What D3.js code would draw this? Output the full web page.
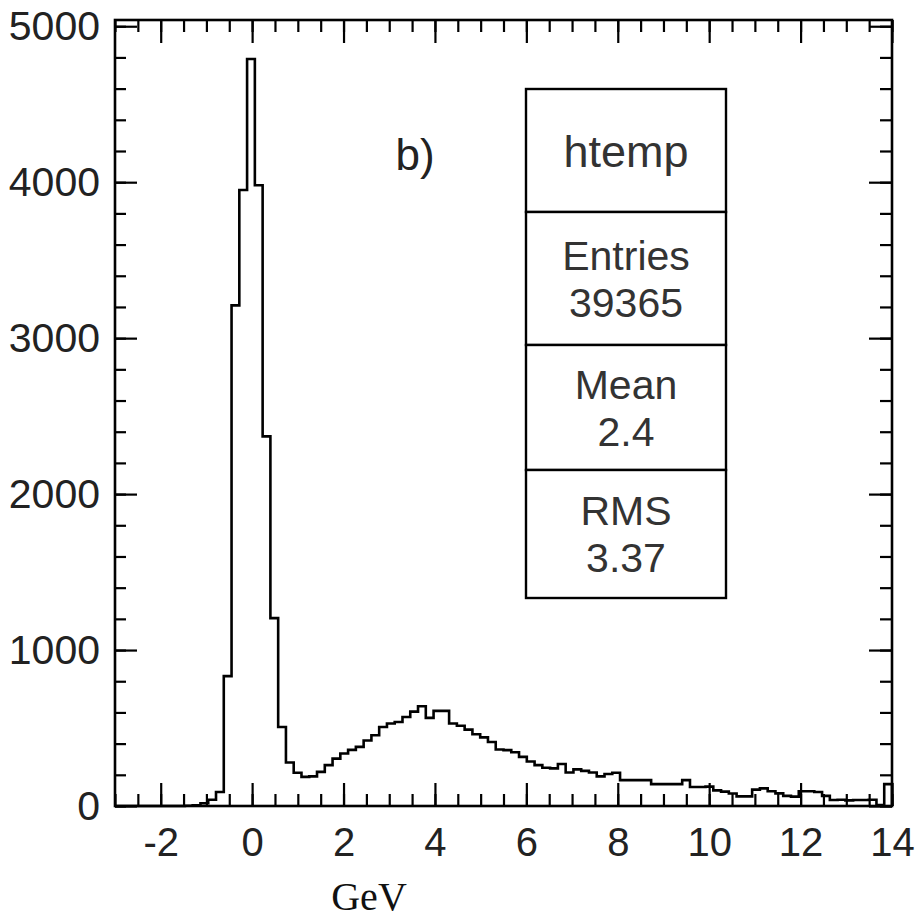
<!DOCTYPE html>
<html>
<head>
<meta charset="utf-8">
<script src="https://cdn.jsdelivr.net/npm/d3@7"></script>
<style>
  body { margin: 0; background: #fff; }
  .axis text { font-family: "Liberation Sans", Arial, sans-serif; fill: #222; }
  .axis line { stroke: #000; stroke-width: 2.2; }
  .axis path { display: none; }
</style>
</head>
<body>
<div id="chart"></div>
<script>
// histogram data, 100 bins from -3 to 14 GeV
const binStart = -3;
const binWidth = 0.17;
const counts = [
    0, 0, 0, 0, 0, 0, 0, 0, 0, 2,
    5, 18, 40, 90, 833, 3210, 3950, 4790, 3980, 2370,
    1205, 507, 279, 213, 187, 190, 219, 262, 304, 337,
    360, 379, 420, 454, 507, 529, 539, 571, 605, 640,
    565, 610, 610, 529, 515, 490, 460, 440, 410, 362,
    358, 345, 315, 285, 262, 245, 241, 269, 215, 235,
    225, 215, 190, 205, 213, 166, 166, 166, 166, 140,
    140, 140, 140, 166, 122, 122, 124, 100, 92, 80,
    62, 62, 105, 113, 95, 81, 65, 60, 95, 95,
    90, 65, 38, 40, 36, 38, 38, 40, 6, 140
];

// axis ticks
const xMajor = [-2, 0, 2, 4, 6, 8, 10, 12, 14];
const xMinor = d3.range(-3, 14.01, 0.5);
const yMajor = [0, 1000, 2000, 3000, 4000, 5000];
const yMinor = d3.range(0, 5001, 200);

// stats box
const statRows = [
    ["htemp"],
    ["Entries", "39365"],
    ["Mean", "2.4"],
    ["RMS", "3.37"]
];

const W = 920, H = 922;
const xLeft = 115, xRight = 892, yTop = 20, yBottom = 806;

const svg = d3.select("#chart").append("svg")
    .attr("width", W)
    .attr("height", H);

const x = d3.scaleLinear().domain([-3, 14]).range([xLeft, xRight]);
const y = d3.scaleLinear().domain([0, 5040]).range([yBottom, yTop]);

// Axlar, ticks inåt
svg.append("g").classed("axis", true)
    .attr("transform", `translate(0, ${yBottom})`)
    .call(d3.axisBottom(x).tickValues(xMinor).tickSizeInner(-12).tickSizeOuter(0).tickFormat(""));
svg.append("g").classed("axis", true)
    .attr("transform", `translate(0, ${yBottom})`)
    .call(d3.axisBottom(x).tickValues(xMajor).tickSizeInner(-23).tickSizeOuter(0).tickPadding(22)
        .tickFormat(d => d))
    .selectAll("text").style("font-size", "40px");

svg.append("g").classed("axis", true)
    .attr("transform", `translate(0, ${yTop})`)
    .call(d3.axisTop(x).tickValues(xMinor).tickSizeInner(-12).tickSizeOuter(0).tickFormat(""));
svg.append("g").classed("axis", true)
    .attr("transform", `translate(0, ${yTop})`)
    .call(d3.axisTop(x).tickValues(xMajor).tickSizeInner(-23).tickSizeOuter(0).tickFormat(""));

svg.append("g").classed("axis", true)
    .attr("transform", `translate(${xLeft}, 0)`)
    .call(d3.axisLeft(y).tickValues(yMinor).tickSizeInner(-11).tickSizeOuter(0).tickFormat(""));
svg.append("g").classed("axis", true)
    .attr("transform", `translate(${xLeft}, 0)`)
    .call(d3.axisLeft(y).tickValues(yMajor).tickSizeInner(-22).tickSizeOuter(0).tickPadding(15)
        .tickFormat(d => d))
    .selectAll("text").style("font-size", "41px");

svg.append("g").classed("axis", true)
    .attr("transform", `translate(${xRight}, 0)`)
    .call(d3.axisRight(y).tickValues(yMinor).tickSizeInner(-12).tickSizeOuter(0).tickFormat(""));
svg.append("g").classed("axis", true)
    .attr("transform", `translate(${xRight}, 0)`)
    .call(d3.axisRight(y).tickValues(yMajor).tickSizeInner(-23).tickSizeOuter(0).tickFormat(""));

// Ram
svg.append("rect")
    .attr("x", xLeft).attr("y", yTop)
    .attr("width", xRight - xLeft).attr("height", yBottom - yTop)
    .attr("fill", "none").attr("stroke", "#000").attr("stroke-width", 2.6);

// Histogram som steg-linje
const pts = [[binStart, 0]];
counts.forEach((c, i) => {
    pts.push([binStart + i * binWidth, c]);
    pts.push([binStart + (i + 1) * binWidth, c]);
});
pts.push([binStart + counts.length * binWidth, 0]);

const line = d3.line()
    .x(d => x(d[0]))
    .y(d => y(d[1]));

svg.append("path")
    .datum(pts)
    .attr("fill", "none")
    .attr("stroke", "#000")
    .attr("stroke-width", 2.6)
    .attr("d", line);

// b)
svg.append("text")
    .attr("x", 415).attr("y", 170)
    .attr("text-anchor", "middle")
    .style("font-family", "Liberation Sans, Arial, sans-serif")
    .style("font-size", "44px")
    .attr("fill", "#222")
    .text("b)");

// Statistikruta
const boxX = 526, boxW = 200;
const rowEdges = [89, 212, 345, 470, 598];
statRows.forEach((row, i) => {
    const y0 = rowEdges[i], y1 = rowEdges[i + 1];
    svg.append("rect")
        .attr("x", boxX).attr("y", y0)
        .attr("width", boxW).attr("height", y1 - y0)
        .attr("fill", "#fff").attr("stroke", "#000").attr("stroke-width", 2.4);
    const mid = (y0 + y1) / 2;
    const n = row.length;
    row.forEach((t, j) => {
        svg.append("text")
            .attr("x", boxX + boxW / 2)
            .attr("y", n === 1 ? mid : mid + (j - 0.5) * 47)
            .attr("dy", "0.36em")
            .attr("text-anchor", "middle")
            .style("font-family", "Liberation Sans, Arial, sans-serif")
            .style("font-size", n === 1 ? "45px" : "41px")
            .attr("fill", "#333")
            .text(t);
    });
});

// Axeltitel
svg.append("text")
    .attr("x", 369).attr("y", 910)
    .attr("text-anchor", "middle")
    .style("font-family", "Liberation Serif, Times New Roman, serif")
    .style("font-size", "40px")
    .attr("fill", "#111")
    .text("GeV");
</script>
</body>
</html>
